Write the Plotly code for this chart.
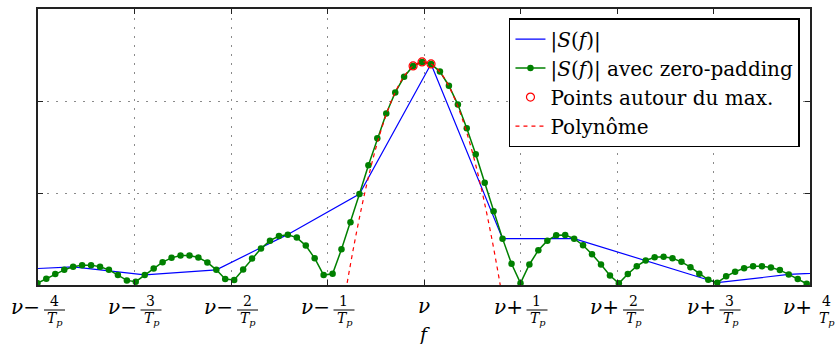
import plotly.graph_objects as go

# ---------------- data (frequency in units of 1/Tp, offset from nu) -------------
f_zp = [-4.006, -3.914, -3.821, -3.728, -3.636, -3.543, -3.450, -3.357, -3.265, -3.172,
        -3.079, -2.987, -2.894, -2.801, -2.709, -2.616, -2.523, -2.430, -2.338, -2.245,
        -2.152, -2.060, -1.967, -1.874, -1.782, -1.689, -1.596, -1.503, -1.411, -1.318,
        -1.225, -1.133, -1.040, -0.947, -0.855, -0.762, -0.669, -0.576, -0.484, -0.391,
        -0.298, -0.206, -0.113, -0.020, 0.073, 0.165, 0.258, 0.351, 0.443, 0.536,
        0.629, 0.721, 0.814, 0.907, 1.000, 1.092, 1.185, 1.278, 1.370, 1.463,
        1.556, 1.648, 1.741, 1.834, 1.927, 2.019, 2.112, 2.205, 2.297, 2.390,
        2.483, 2.575, 2.668, 2.761, 2.853, 2.946, 3.039, 3.131, 3.224, 3.317,
        3.410, 3.502, 3.595, 3.688, 3.780, 3.873, 3.966]
S_zp = [0.020, 0.068, 0.119, 0.165, 0.198, 0.216, 0.216, 0.198, 0.165, 0.108,
        0.050, 0.036, 0.108, 0.180, 0.248, 0.295, 0.320, 0.320, 0.299, 0.245,
        0.165, 0.065, 0.054, 0.169, 0.288, 0.396, 0.482, 0.532, 0.547, 0.515,
        0.428, 0.291, 0.108, 0.122, 0.388, 0.683, 0.989, 1.302, 1.594, 1.864,
        2.093, 2.263, 2.381, 2.425, 2.403, 2.320, 2.166, 1.961, 1.705, 1.421,
        1.111, 0.802, 0.504, 0.230, 0.020, 0.223, 0.378, 0.482, 0.540, 0.543,
        0.504, 0.432, 0.335, 0.223, 0.103, 0.018, 0.119, 0.205, 0.266, 0.302,
        0.306, 0.291, 0.252, 0.194, 0.122, 0.057, 0.025, 0.094, 0.144, 0.183,
        0.205, 0.205, 0.191, 0.162, 0.115, 0.065, 0.014]

f_raw = [-4.377, -3.636, -2.894, -2.152, -1.411, -0.669, 0.073, 0.814, 1.556,
         2.297, 3.039, 3.780, 4.522]
S_raw = [0.160, 0.198, 0.110, 0.165, 0.550, 0.989, 2.403, 0.504, 0.504,
         0.266, 0.025, 0.115, 0.150]

f_max = [-0.113, -0.020, 0.073]
S_max = [2.381, 2.425, 2.403]

f_poly = [-0.85, -0.80, -0.70, -0.60, -0.50, -0.40, -0.30, -0.20, -0.10, 0.00,
          0.10, 0.20, 0.30, 0.40, 0.50, 0.60, 0.70, 0.79, 0.84]
S_poly = [-0.318, 0.000, 0.570, 1.065, 1.484, 1.826, 2.091, 2.280, 2.391, 2.426,
          2.384, 2.265, 2.069, 1.797, 1.448, 1.022, 0.519, 0.000, -0.314]

tick_vals = [-4, -3, -2, -1, 0, 1, 2, 3, 4]
tick_num = ["4", "3", "2", "1", "", "1", "2", "3", "4"]
tick_sign = ["−", "−", "−", "−", "", "+", "+", "+", "+"]

FONT = "DejaVu Serif"

fig = go.Figure()
fig.add_trace(go.Scatter(x=f_raw, y=S_raw, mode="lines", name="|<i>S</i>(<i>f</i>)|",
                         line=dict(color="#0000ff", width=1.2)))
fig.add_trace(go.Scatter(x=f_zp, y=S_zp, mode="lines+markers",
                         name="|<i>S</i>(<i>f</i>)| avec zero-padding",
                         line=dict(color="#008000", width=1.5),
                         marker=dict(color="#008000", size=6.5)))
fig.add_trace(go.Scatter(x=f_max, y=S_max, mode="markers", name="Points autour du max.",
                         marker=dict(symbol="circle-open", color="#ff0000", size=8,
                                     line=dict(width=1.2, color="#ff0000"))))
fig.add_trace(go.Scatter(x=f_poly, y=S_poly, mode="lines", name="Polynôme",
                         line=dict(color="#ff0000", width=1.2, dash="4px,4px",
                                   shape="spline")))

annotations = []
shapes = []
for v, num, sg in zip(tick_vals, tick_num, tick_sign):
    if num == "":
        annotations.append(dict(x=v, y=0, xref="x", yref="paper", text="<i>ν</i>",
                                showarrow=False, xanchor="center", yanchor="middle",
                                yshift=-21, font=dict(family=FONT, size=20, color="black")))
        continue
    annotations.append(dict(x=v, y=0, xref="x", yref="paper", text="<i>ν</i>" + sg,
                            showarrow=False, xanchor="right", yanchor="middle",
                            xshift=4, yshift=-22,
                            font=dict(family=FONT, size=20, color="black")))
    annotations.append(dict(x=v, y=0, xref="x", yref="paper", text=num,
                            showarrow=False, xanchor="center", yanchor="middle",
                            xshift=16, yshift=-16,
                            font=dict(family=FONT, size=14, color="black")))
    annotations.append(dict(x=v, y=0, xref="x", yref="paper",
                            text="<i>T</i><sub><i>p</i></sub>",
                            showarrow=False, xanchor="center", yanchor="middle",
                            xshift=17, yshift=-34,
                            font=dict(family=FONT, size=14, color="black")))
    shapes.append(dict(type="line", xref="x", xsizemode="pixel", xanchor=v,
                       x0=6, x1=27, yref="paper", ysizemode="pixel", yanchor=0,
                       y0=-25, y1=-25, line=dict(color="black", width=1)))

annotations.append(dict(x=0, y=0, xref="x", yref="paper", text="<i>f</i>",
                        showarrow=False, xanchor="center", yanchor="middle",
                        yshift=-49, font=dict(family=FONT, size=19, color="black")))

axis_common = dict(showline=True, linecolor="#222222", linewidth=1.5, mirror="ticks",
                   ticks="inside", ticklen=5, tickcolor="#222222", tickwidth=1.2,
                   showgrid=True, gridcolor="#8a8a8a", gridwidth=1, griddash="1.5px,7.5px",
                   zeroline=False, showticklabels=False)

fig.update_layout(
    width=836, height=344,
    margin=dict(l=38, r=26, t=7, b=59),
    paper_bgcolor="white", plot_bgcolor="white",
    showlegend=True,
    legend=dict(x=0.987, y=0.967, xanchor="right", yanchor="top",
                bgcolor="white", bordercolor="black", borderwidth=1.5,
                font=dict(family=FONT, size=20, color="black"),
                itemwidth=30, tracegroupgap=0),
    xaxis=dict(range=[-4, 4], tickvals=tick_vals, **axis_common),
    yaxis=dict(range=[0, 3], tickvals=[0, 1, 2, 3], **axis_common),
    annotations=annotations,
    shapes=shapes,
    font=dict(family=FONT),
)

fig.write_html("out.html")
